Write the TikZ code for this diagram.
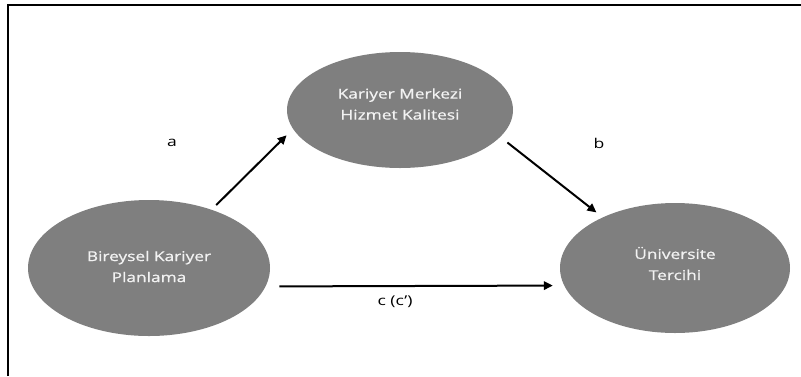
\documentclass[tikz,border=0pt]{standalone}
\usepackage{fontspec}
\setmainfont{Open Sans}[FakeStretch=1.3]
\newfontfamily\elfont{Open Sans}[FakeStretch=1.28,FakeBold=0.8]
\usetikzlibrary{arrows.meta,shapes.geometric}
\definecolor{ellfill}{RGB}{127,127,127}
\definecolor{elltext}{RGB}{242,242,242}
\begin{document}
\begin{tikzpicture}[x=1pt,y=-1pt,
  ell/.style={ellipse, fill=ellfill, inner sep=0pt, outer sep=0pt},
  elltxt/.style={text=elltext, align=center, inner sep=0pt, font=\elfont\fontsize{13.5}{21}\selectfont},
  arr/.style={line width=2pt, -{Triangle[length=9pt,width=8.5pt]}},
  lbl/.style={font=\fontsize{13.5}{16}\selectfont, text=black, inner sep=0pt},
  frame/.style={line width=1.6pt}]
\useasboundingbox (0,0) rectangle (801,376);
\draw[frame] (8,376) -- (8,5) -- (801,5);
\node[ell, minimum width=226pt, minimum height=116pt,
  label={[elltxt, yshift=6pt]center:{Kariyer Merkezi\\Hizmet Kalitesi}}] (T) at (400,110) {};
\node[ell, minimum width=242pt, minimum height=136pt,
  label={[elltxt, yshift=1.5pt]center:{Bireysel Kariyer\\Planlama}}] (L) at (149,268) {};
\node[ell, minimum width=230pt, minimum height=130pt,
  label={[elltxt, yshift=4.5pt]center:{Üniversite\\Tercihi}}] (R) at (675,268) {};
\draw[arr, shorten <=6.7pt, shorten >=9.2pt] (L.43.1) -- (T.190.4);
\draw[arr, shorten <=9.2pt, shorten >=8.1pt] (T.345.4) -- (R.145.9);
\draw[arr, shorten <=14pt, shorten >=11.5pt] (L.351.2) -- (R.189.25);
\node[lbl] (la) at (172,143) {a};
\node[lbl] (lb) at (599,143) {b};
\node[lbl] (lc) at (395,302) {c (c’)};
\end{tikzpicture}
\end{document}
